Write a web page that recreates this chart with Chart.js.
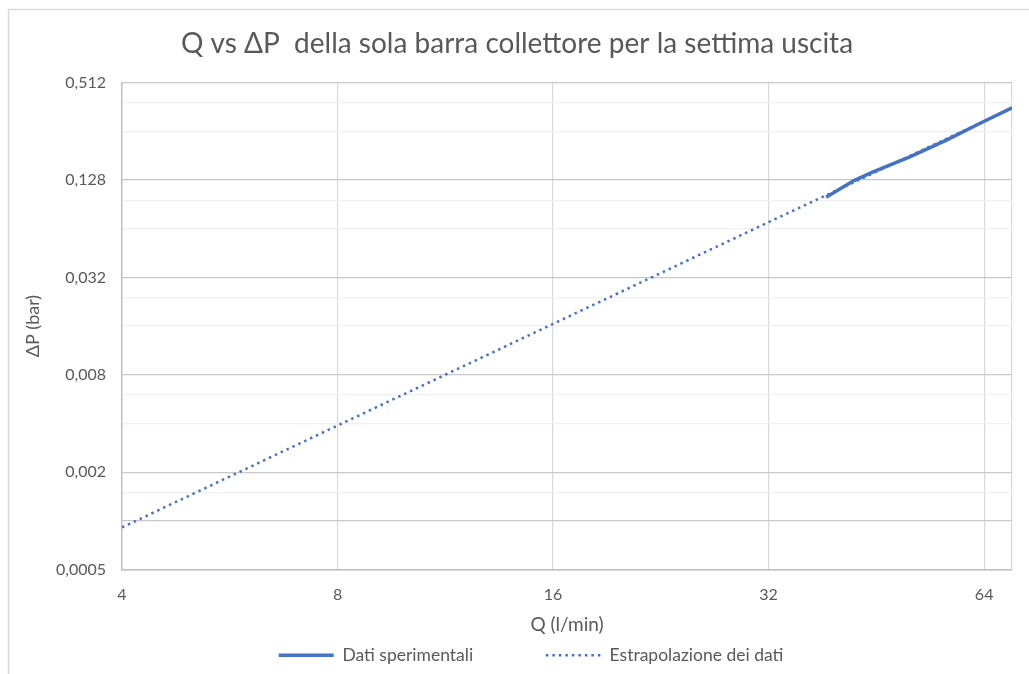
<!DOCTYPE html>
<html>
<head>
<meta charset="utf-8">
<script src="https://cdn.jsdelivr.net/npm/chart.js@4.4.1/dist/chart.umd.min.js"></script>
<style>
  body { margin: 0; background: #fff; }
  #chart { display: block; }
</style>
</head>
<body>
<canvas id="chart" width="1029" height="674"></canvas>
<script>
const solidQ = [38.5, 42.1, 44.7, 50.3, 56.6, 63.6, 70];
const solidDP = [0.100, 0.127, 0.143, 0.177, 0.225, 0.291, 0.358];

// Estrapolazione (linea tratteggiata)
const trendQ = [4, 8, 16, 32, 70];
const trendDP = [0.00091, 0.00388, 0.0165, 0.0702, 0.356];

const xTicks = [4, 8, 16, 32, 64];
const yTicks = [0.0005, 0.002, 0.008, 0.032, 0.128, 0.512];
const yDarkGrid = [0.0005, 0.001, 0.002, 0.008, 0.032, 0.128, 0.512];

const xMin = 4, xMax = 70;
const yMin = 0.0005, yMax = 0.512;

const FONT = 'Lato, "Open Sans", sans-serif';
const TEXT = '#595959';
const BLUE = '#4472C4';
const DOTS = [2.5, 4];

const same = (a, b) => Math.abs(a / b - 1) < 1e-6;
const fmt = v => String(v).replace('.', ',');

// minor gridlines at 2x and 3x of each major value
const yMinor = [];
yTicks.slice(0, -1).forEach(v => { yMinor.push(v * 2, v * 3); });
const yGrid = yTicks.concat(yMinor).sort((a, b) => a - b);

const frame = {
    id: 'frame',
    beforeDraw(chart) {
        const ctx = chart.ctx;
        ctx.save();
        ctx.strokeStyle = '#D9D9D9';
        ctx.lineWidth = 1.5;
        ctx.beginPath();
        ctx.moveTo(8.5, chart.height);
        ctx.lineTo(8.5, 9.5);
        ctx.lineTo(chart.width, 9.5);
        ctx.stroke();
        ctx.restore();
    },
    // legend sits a bit right of centre, under the plot area
    afterLayout(chart) {
        chart.legend.left += 14;
        chart.legend.right += 14;
    }
};

new Chart(document.getElementById('chart'), {
    type: 'line',
    data: {
        datasets: [
            {
                label: 'Dati sperimentali',
                data: solidQ.map((q, i) => ({ x: q, y: solidDP[i] })),
                borderColor: BLUE,
                backgroundColor: BLUE,
                borderWidth: 3.5,
                pointRadius: 0,
                pointStyle: 'line',
                order: 1
            },
            {
                label: 'Estrapolazione dei dati',
                data: trendQ.map((q, i) => ({ x: q, y: trendDP[i] })),
                borderColor: BLUE,
                backgroundColor: BLUE,
                borderWidth: 2.5,
                borderDash: DOTS,
                pointRadius: 0,
                pointStyle: 'line',
                order: 2
            }
        ]
    },
    options: {
        responsive: false,
        animation: false,
        layout: { padding: { left: 22, right: 17, top: 0, bottom: 0 } },
        plugins: {
            title: {
                display: true,
                text: 'Q vs \u0394P  della sola barra collettore per la settima uscita',
                color: TEXT,
                font: { family: FONT, size: 28, weight: 'normal' },
                padding: { top: 27, bottom: 22 }
            },
            legend: {
                position: 'bottom',
                labels: {
                    color: TEXT,
                    font: { family: FONT, size: 17.5 },
                    usePointStyle: true,
                    pointStyleWidth: 55,
                    boxWidth: 55,
                    boxHeight: 3,
                    padding: 10,
                    generateLabels(chart) {
                        const items = Chart.defaults.plugins.legend.labels.generateLabels(chart);
                        items[0].text = items[0].text + '              ';
                        items[0].lineWidth = 3.5;
                        items[0].lineDash = [];
                        items[1].lineWidth = 2.5;
                        items[1].lineDash = DOTS;
                        return items;
                    }
                }
            },
            tooltip: { enabled: false }
        },
        scales: {
            x: {
                type: 'logarithmic',
                min: xMin,
                max: xMax,
                afterBuildTicks(scale) {
                    scale.ticks = xTicks.concat([xMax]).map(v => ({ value: v }));
                },
                afterFit(scale) { scale.height = 67; },
                ticks: {
                    autoSkip: false,
                    maxRotation: 0,
                    padding: 16,
                    color: TEXT,
                    font: { family: FONT, size: 16 },
                    callback: v => xTicks.some(t => same(t, v)) ? fmt(v) : ''
                },
                grid: { color: '#D9D9D9', lineWidth: 1.2, drawTicks: false },
                border: { color: '#BFBFBF', width: 1.5 },
                title: {
                    display: true,
                    text: 'Q (l/min)',
                    color: TEXT,
                    font: { family: FONT, size: 19 },
                    padding: { top: 5, bottom: 0 }
                }
            },
            y: {
                type: 'logarithmic',
                min: yMin,
                max: yMax,
                afterBuildTicks(scale) {
                    scale.ticks = yGrid.map(v => ({ value: v }));
                },
                afterFit(scale) { scale.width = 100; },
                ticks: {
                    autoSkip: false,
                    padding: 16,
                    color: TEXT,
                    font: { family: FONT, size: 16 },
                    callback: v => yTicks.some(t => same(t, v)) ? fmt(v) : ''
                },
                grid: {
                    drawTicks: false,
                    lineWidth: 1.2,
                    color: c => yDarkGrid.some(t => same(t, c.tick.value)) ? '#C8C8C8' : '#F0F0F0'
                },
                border: { color: '#BFBFBF', width: 1.5 },
                title: {
                    display: true,
                    text: '\u0394P (bar)',
                    color: TEXT,
                    font: { family: FONT, size: 18 },
                    padding: { top: 0, bottom: 4 }
                }
            }
        }
    },
    plugins: [frame]
});
</script>
</body>
</html>
